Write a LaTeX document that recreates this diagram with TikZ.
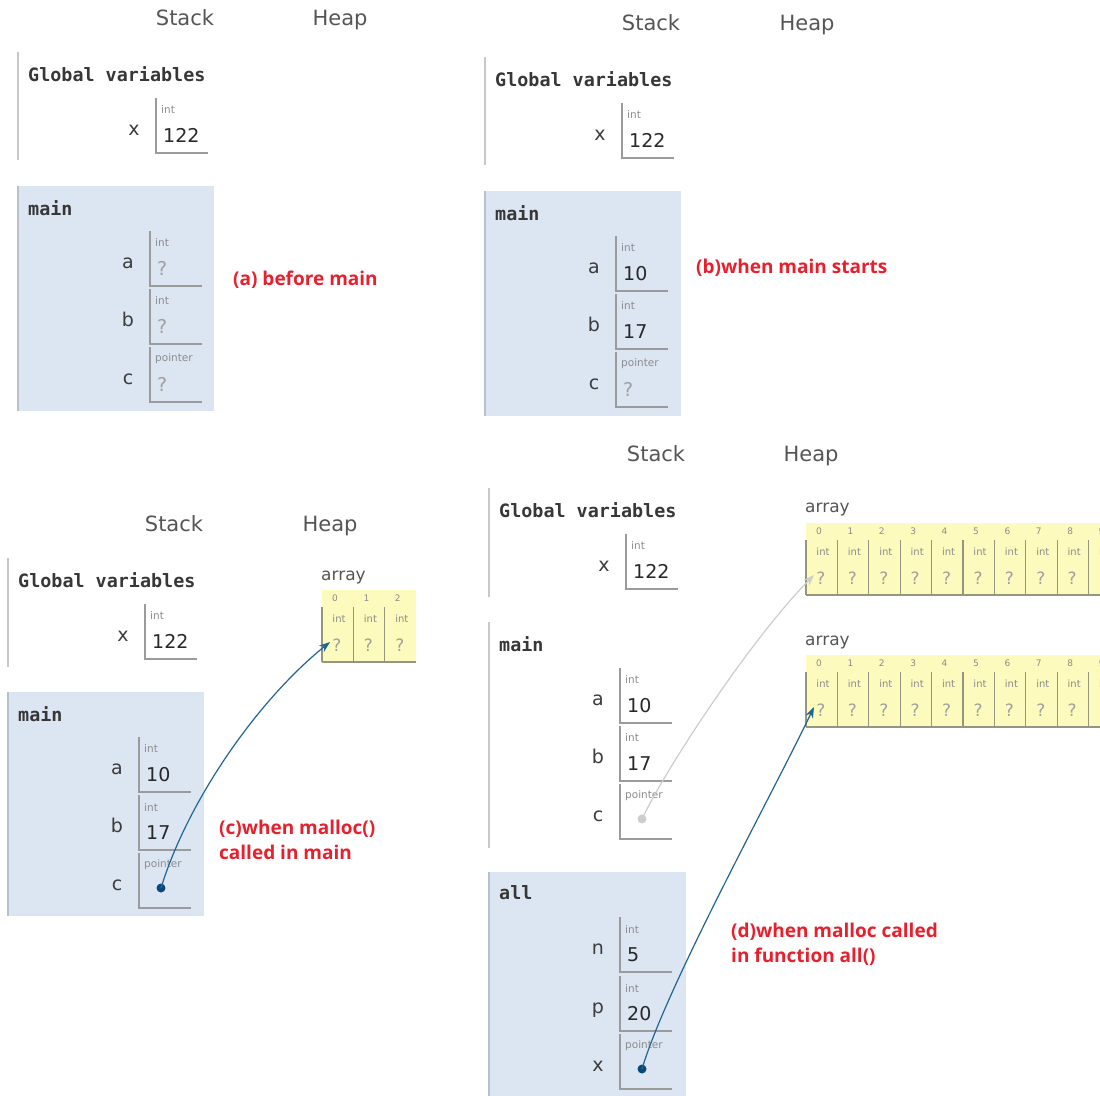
\documentclass[tikz,border=0pt]{standalone}
\usepackage{fontspec}
\setmainfont{DejaVu Sans}
\newfontfamily\monofont{DejaVu Sans Mono}
\newfontfamily\capfont{Open Sans}
\usetikzlibrary{arrows.meta}
\definecolor{txtgray}{RGB}{85,85,85}
\definecolor{monogray}{RGB}{55,55,55}
\definecolor{labgray}{RGB}{60,60,60}
\definecolor{typegray}{RGB}{140,140,140}
\definecolor{qgray}{RGB}{160,160,160}
\definecolor{valcol}{RGB}{40,40,40}
\definecolor{capred}{RGB}{232,32,45}
\definecolor{framefill}{RGB}{220,229,242}
\definecolor{frameedge}{RGB}{185,192,204}
\definecolor{glline}{RGB}{200,200,200}
\definecolor{cellgray}{RGB}{155,155,155}
\definecolor{arrfill}{RGB}{252,250,188}
\definecolor{arrline}{RGB}{150,150,128}
\definecolor{ptrblue}{RGB}{35,100,145}
\definecolor{dotblue}{RGB}{10,72,122}
\definecolor{ptrgray}{RGB}{205,205,205}
\tikzset{
  hdr/.style={font=\fontsize{21}{21}\selectfont, text=txtgray, inner sep=0, anchor=base},
  mono/.style={font=\monofont\bfseries\fontsize{18.4}{20}\selectfont, text=monogray, anchor=west, inner sep=0},
  varlab/.style={font=\fontsize{19}{19}\selectfont, text=labgray, inner sep=0, anchor=base},
  typelab/.style={font=\fontsize{10.5}{11}\selectfont, text=typegray, inner sep=0, anchor=west},
  vallab/.style={font=\fontsize{19}{19}\selectfont, text=valcol, inner sep=0, anchor=base west},
  capt/.style={font=\capfont\bfseries\fontsize{19}{25}\selectfont, text=capred, anchor=west, inner sep=0, align=left},
  cellline/.style={draw=cellgray, line width=1.2pt},
  glframe/.style={draw=glline, line width=2.5pt},
  actframe/.style={fill=framefill},
  actedge/.style={draw=frameedge, line width=2pt},
  arrlab/.style={font=\fontsize{17}{17}\selectfont, text=txtgray, inner sep=0, anchor=west},
  idxlab/.style={font=\fontsize{9}{9}\selectfont, text=typegray, inner sep=0},
  cint/.style={font=\fontsize{10}{10}\selectfont, text=typegray, inner sep=0},
  cq/.style={font=\fontsize{17}{17}\selectfont, text=qgray, inner sep=0},
  arrcell/.style={draw=arrline, line width=1.2pt},
  dotnode/.style={circle, fill=dotblue, minimum size=9pt, inner sep=0},
  graydot/.style={circle, fill=ptrgray, minimum size=9pt, inner sep=0},
  ptrarrow/.style={draw=ptrblue, line width=1.2pt, -{Stealth[length=11pt,width=8pt]}},
  grayarrow/.style={draw=ptrgray, line width=1.2pt, -{Stealth[length=11pt,width=8pt]}},
}
% #1 name, #2 left x, #3 top y, #4 label, #5 type, #6 value
\newcommand\varcell[6]{%
  \draw[cellline] (#2,#3) -- (#2,#3+55) -- (#2+52,#3+55);
  \node[varlab] (#1-lab) at (#2-22,#3+37) {#4};
  \node[typelab] (#1-type) at (#2+5,#3+12) {#5};
  \node[vallab] (#1-val) at (#2+7,#3+44) {#6};
}
% #1 name, #2 left x, #3 top y, #4 number of cells
\newcommand\heaparr[4]{%
  \node[arrlab] (#1-lab) at (#2-1,#3-13) {array};
  \fill[arrfill] (#2,#3) rectangle (#2+#4*31.4,#3+72);
  \foreach \i in {1,...,#4} {
    \pgfmathsetmacro\cx{#2+(\i-1)*31.4}
    \pgfmathtruncatemacro\k{\i-1}
    \node[idxlab] (#1-idx\i) at (\cx+13,#3+8) {\k};
    \draw[arrcell] (\cx,#3+17) -- (\cx,#3+72);
    \node[cint] (#1-int\i) at (\cx+17,#3+29) {int};
    \node[cq] (#1-q\i) at (\cx+15,#3+55) {?};
  }
  \draw[arrcell] (#2,#3+72) -- (#2+#4*31.4,#3+72);
  \coordinate (#1-in) at (#2+8,#3+52);
}
\begin{document}
\begin{tikzpicture}[x=1pt,y=-1pt]
\clip (0,0) rectangle (1100,1095);
\fill[white] (0,0) rectangle (1100,1095);

% ---------------- panel (a)
\node[hdr] (a-stack) at (185,25) {Stack};
\node[hdr] (a-heap) at (340,25) {Heap};
\draw[glframe] (18,52) -- (18,160);
\node[mono] (a-glob) at (28,74) {Global variables};
\varcell{a-x}{156}{98}{x}{int}{122}
\fill[actframe] (18,186) rectangle (214,411);
\draw[actedge] (18,186) -- (18,411);
\node[mono] (a-main) at (28,208) {main};
\varcell{a-a}{150}{231}{a}{int}{\color{qgray}?}
\varcell{a-b}{150}{289}{b}{int}{\color{qgray}?}
\varcell{a-c}{150}{347}{c}{pointer}{\color{qgray}?}
\node[capt] (a-cap) at (233,280) {(a) before main};

% ---------------- panel (b)
\node[hdr] (b-stack) at (651,30) {Stack};
\node[hdr] (b-heap) at (807,30) {Heap};
\draw[glframe] (485,57) -- (485,165);
\node[mono] (b-glob) at (495,79) {Global variables};
\varcell{b-x}{622}{103}{x}{int}{122}
\fill[actframe] (485,191) rectangle (681,416);
\draw[actedge] (485,191) -- (485,416);
\node[mono] (b-main) at (495,213) {main};
\varcell{b-a}{616}{236}{a}{int}{10}
\varcell{b-b}{616}{294}{b}{int}{17}
\varcell{b-c}{616}{352}{c}{pointer}{\color{qgray}?}
\node[capt] (b-cap) at (696,268) {(b)when main starts};

% ---------------- panel (c)
\node[hdr] (c-stack) at (174,531) {Stack};
\node[hdr] (c-heap) at (330,531) {Heap};
\draw[glframe] (8,558) -- (8,667);
\node[mono] (c-glob) at (18,580) {Global variables};
\varcell{c-x}{145}{604}{x}{int}{122}
\fill[actframe] (8,692) rectangle (204,916);
\draw[actedge] (8,692) -- (8,916);
\node[mono] (c-main) at (18,714) {main};
\varcell{c-a}{139}{737}{a}{int}{10}
\varcell{c-b}{139}{795}{b}{int}{17}
\varcell{c-c}{139}{853}{c}{pointer}{}
\node[dotnode] (c-dot) at (161,888) {};
\heaparr{c-arr}{322}{590}{3}
\draw[ptrarrow] (c-dot.center) .. controls (188,800) and (258,700) .. (c-arr-in);
\node[capt] (c-cap) at (219,839.5) {(c)when malloc()\\called in main};

% ---------------- panel (d)
\node[hdr] (d-stack) at (656,461) {Stack};
\node[hdr] (d-heap) at (811,461) {Heap};
\draw[glframe] (489,488) -- (489,597);
\node[mono] (d-glob) at (499,510) {Global variables};
\varcell{d-x}{626}{534}{x}{int}{122}
\draw[glframe] (489,622) -- (489,848);
\node[mono] (d-main) at (499,644) {main};
\varcell{d-a}{620}{668}{a}{int}{10}
\varcell{d-b}{620}{726}{b}{int}{17}
\varcell{d-c}{620}{784}{c}{pointer}{}
\node[graydot] (d-cdot) at (642,819) {};
\fill[actframe] (489,872) rectangle (686,1100);
\draw[actedge] (489,872) -- (489,1100);
\node[mono] (d-all) at (499,893) {all};
\varcell{d-n}{620}{917}{n}{int}{5}
\varcell{d-p}{620}{976}{p}{int}{20}
\varcell{d-xx}{620}{1034}{x}{pointer}{}
\node[dotnode] (d-xdot) at (642,1069) {};
\heaparr{d-arr1}{806}{523}{10}
\heaparr{d-arr2}{806}{655}{10}
\draw[grayarrow] (d-cdot.center) .. controls (665,770) and (750,640) .. (d-arr1-in);
\draw[ptrarrow] (d-xdot.center) .. controls (667,985) and (772,795) .. (d-arr2-in);
\node[capt] (d-cap) at (731,944) {(d)when malloc called\\in function all()};
\end{tikzpicture}
\end{document}
